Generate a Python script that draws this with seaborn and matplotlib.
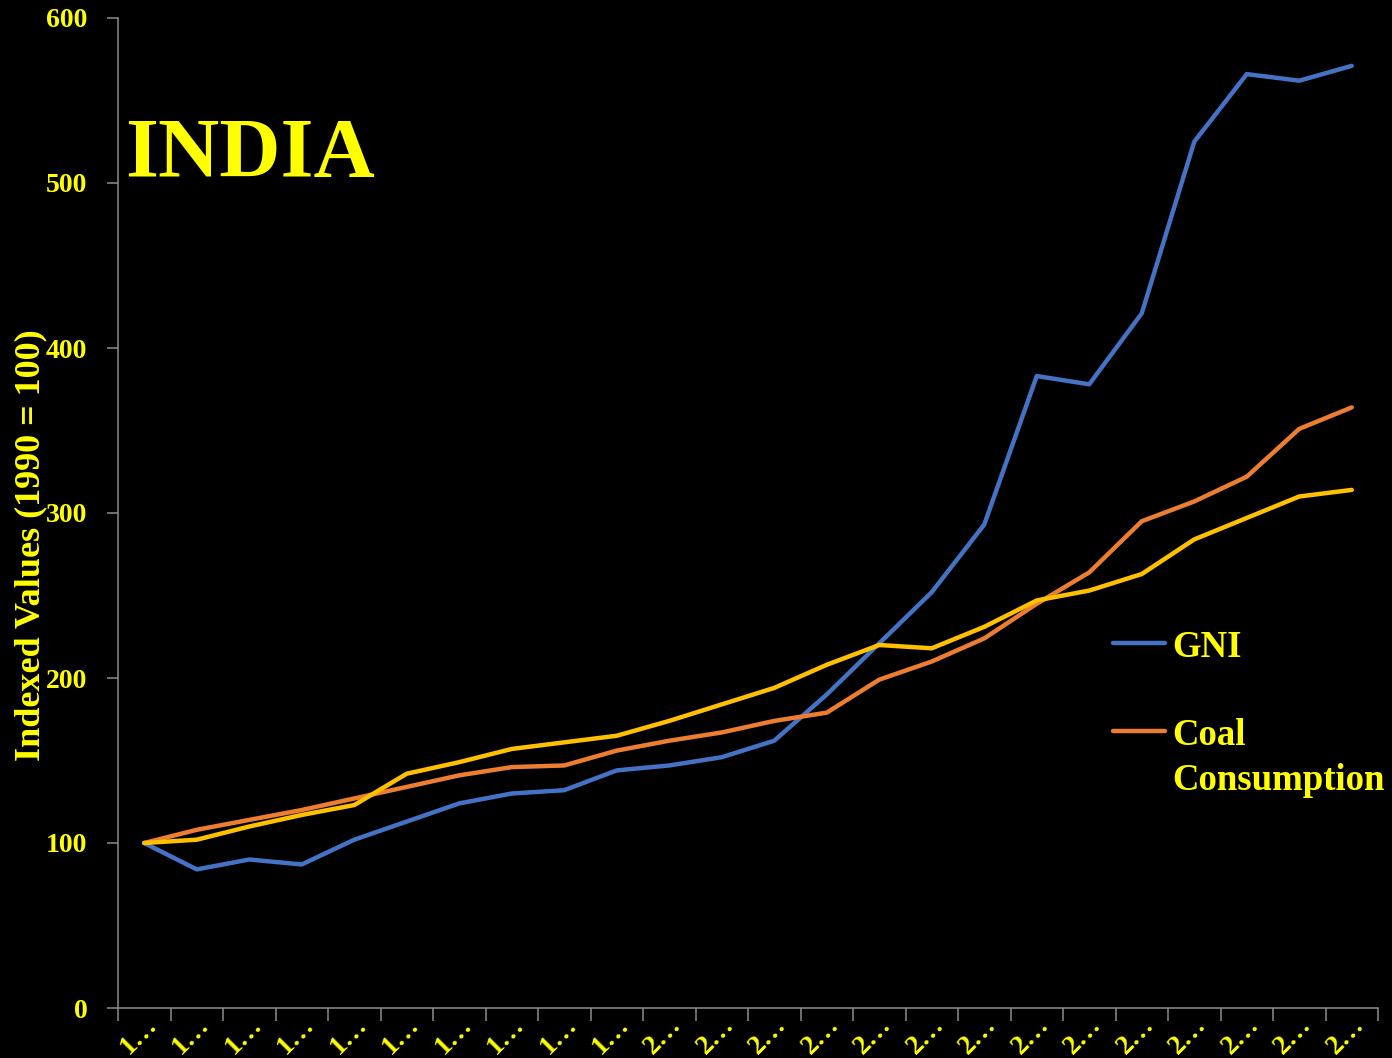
import pandas as pd
import matplotlib
matplotlib.use("Agg")
import matplotlib.pyplot as plt
import seaborn as sns

sns.set_style("dark")
plt.rcParams['font.family'] = ['Liberation Serif', 'DejaVu Serif']
plt.rcParams['font.weight'] = 'bold'

YELLOW = "#FFFF00"
GREY = "#8C8C8C"

# 1990 .. 2013, indexed 1990 = 100
years = list(range(1990, 2014))
gni = [100, 84, 90, 87, 102, 113, 124, 130, 132, 144, 147, 152, 162, 190,
       221, 252, 293, 383, 378, 421, 525, 566, 562, 571]
coal = [100, 108, 114, 120, 127, 134, 141, 146, 147, 156, 162, 167, 174, 179,
        199, 210, 224, 245, 264, 295, 307, 322, 351, 364]
third = [100, 102, 110, 117, 123, 142, 149, 157, 161, 165, 174, 184, 194, 208,
         220, 218, 231, 247, 253, 263, 284, 297, 310, 314]
tick_labels = [str(y)[0] + "\u2026" for y in years]

df = pd.DataFrame({"pos": range(len(years)), "GNI": gni,
                   "Coal": coal, "Third": third})

fig = plt.figure(figsize=(13.92, 10.58), dpi=100, facecolor="black")
ax = fig.add_axes([118/1392, 1 - 1008/1058, (1378-118)/1392, (1008-18)/1058])
ax.set_facecolor("black")

sns.lineplot(data=df, x="pos", y="GNI", color="#4472C4", lw=3.2, ax=ax, label="GNI")
sns.lineplot(data=df, x="pos", y="Coal", color="#ED7D31", lw=3.2, ax=ax,
             label="Coal\nConsumption")
sns.lineplot(data=df, x="pos", y="Third", color="#FFC000", lw=3.2, ax=ax,
             label="_third")

ax.set_xlim(-0.5, len(years) - 0.5)
ax.set_ylim(0, 600)
ax.set_yticks(range(0, 601, 100))
ax.grid(False)

# category boundaries as major ticks, labels on minor ticks at centres
ax.set_xticks([i - 0.5 for i in range(len(years) + 1)])
ax.set_xticklabels([])
ax.set_xticks(range(len(years)), minor=True)
ax.set_xticklabels(tick_labels, minor=True, rotation=45, ha="right", va="top",
                   rotation_mode="anchor", color=YELLOW, fontsize=20,
                   fontweight="bold")
ax.tick_params(axis="x", which="major", length=9, width=1.1, color=GREY,
               direction="out", bottom=True)
ax.tick_params(axis="x", which="minor", length=0, pad=3, bottom=True)
for t in ax.get_xticklabels(minor=True):
    t.set_x(t.get_position()[0] + 0.18)
ax.tick_params(axis="y", length=8, width=1.1, color=GREY, direction="out",
               left=True, labelcolor=YELLOW, labelsize=20, pad=14)
for t in ax.get_yticklabels():
    t.set_fontweight("bold")

for s in ["top", "right"]:
    ax.spines[s].set_visible(False)
for s in ["left", "bottom"]:
    ax.spines[s].set_visible(True)
    ax.spines[s].set_color(GREY)
    ax.spines[s].set_linewidth(1.1)

ax.set_xlabel("")
ax.set_ylabel("Indexed Values (1990 = 100)", color=YELLOW, fontsize=26,
              fontweight="bold")
ax.yaxis.set_label_coords(-0.056, 0.468)

ax.text(125/1392, 1 - 177/1058, "INDIA", transform=fig.transFigure,
        color=YELLOW, fontsize=61, fontweight="bold", ha="left", va="baseline")

handles, labels = ax.get_legend_handles_labels()
leg = ax.legend(handles[:2], labels[:2], loc="upper left",
                bbox_to_anchor=(1113/1392, 1 - 630/1058),
                bbox_transform=fig.transFigure, frameon=False,
                borderpad=0, borderaxespad=0, handlelength=1.4,
                handletextpad=0.2, labelspacing=1.45,
                prop={"size": 26.5, "weight": "bold"})
for t in leg.get_texts():
    t.set_color(YELLOW)
    t.set_linespacing(1.37)
# keep the handle level with the first line of a two-line label
for col in leg._legend_handle_box.get_children():
    for row in col.get_children():
        row.align = "top"

fig.savefig("out.png", dpi=100, facecolor="black")
